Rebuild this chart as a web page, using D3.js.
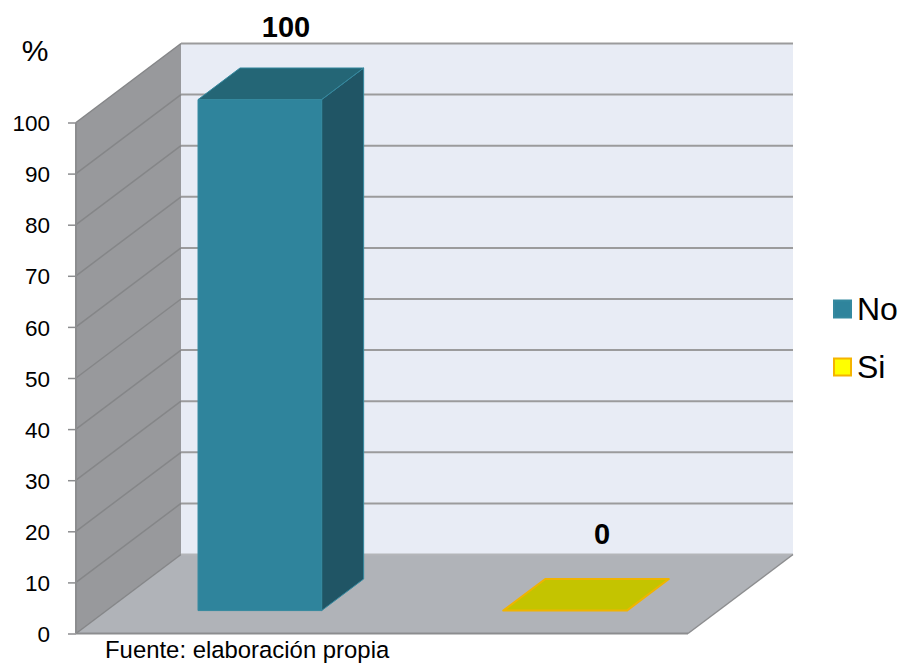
<!DOCTYPE html>
<html><head><meta charset="utf-8">
<script src="https://cdn.jsdelivr.net/npm/d3@7"></script>
<style>html,body{margin:0;padding:0;background:#fff}svg{display:block}text{font-family:"Liberation Sans",Arial,sans-serif;fill:#000}</style>
</head><body><div id="c"></div>
<script>
const categories = ["No","Si"];
const values = [100,0];
const tickValues = [0,10,20,30,40,50,60,70,80,90,100];
const colors = {No:{front:"#2f849c",top:"#246676",side:"#205565",edge:"#35899f"},Si:{front:"#c4c400",top:"#c4c400",side:"#c4c400",edge:"#f0b400"}};

const W=901,H=663;
const svg=d3.select("#c").append("svg").attr("width",W).attr("height",H);
const y=d3.scaleLinear().domain([0,100]).range([633.5,122.5]);
const x=d3.scaleBand().domain(categories).range([76,688]).paddingInner(.595).paddingOuter(.3);
const DX=105,DY=-79;
const pt=(px,v,d)=>[px+DX*d,y(v)+DY*d];
const poly=(pts,fill,stroke,sw)=>svg.append("polygon").attr("points",pts.map(p=>p.join(",")).join(" ")).attr("fill",fill).attr("stroke",stroke||"none").attr("stroke-width",sw||0).attr("stroke-linejoin","round");
const x0=76,x1=688,vMax=100;

// back wall, side wall, floor
poly([pt(x0,0,1),pt(x1,0,1),pt(x1,vMax,1),pt(x0,vMax,1)],"#e8ecf5");
poly([pt(x0,0,0),pt(x0,0,1),pt(x0,vMax,1),pt(x0,vMax,0)],"#98999c");
poly([pt(x0,0,0),pt(x1,0,0),pt(x1,0,1),pt(x0,0,1)],"#b0b3b8");

// gridlines
tickValues.forEach(t=>{
  const a=pt(x0,t,0),b=pt(x0,t,1),c=pt(x1,t,1);
  svg.append("line").attr("x1",a[0]).attr("y1",a[1]).attr("x2",b[0]).attr("y2",b[1]).attr("stroke","#858688").attr("stroke-width",1.5);
  svg.append("line").attr("x1",b[0]).attr("y1",b[1]).attr("x2",c[0]).attr("y2",c[1]).attr("stroke",t===0?"#b4b6b9":"#9b9b9c").attr("stroke-width",2);
});
// floor front and right edge
const f0=pt(x0,0,0),f1=pt(x1,0,0),f2=pt(x1,0,1);
svg.append("line").attr("x1",f0[0]).attr("y1",f0[1]).attr("x2",f1[0]).attr("y2",f1[1]).attr("stroke","#8c8d8f").attr("stroke-width",2);
svg.append("line").attr("x1",f1[0]).attr("y1",f1[1]).attr("x2",f2[0]).attr("y2",f2[1]).attr("stroke","#8c8d8f").attr("stroke-width",1.5);
svg.append("line").attr("x1",x0).attr("y1",y(0)).attr("x2",x0).attr("y2",y(100)).attr("stroke","#8c8d8f").attr("stroke-width",2);

// axis (ticks and labels)
const ax=svg.append("g").attr("transform",`translate(${x0},0)`).call(d3.axisLeft(y).tickValues(tickValues).tickSize(8).tickPadding(18));
ax.select(".domain").remove();
ax.selectAll("line").attr("stroke","#8c8d8f").attr("stroke-width",1.5);
ax.selectAll("text").style("font-size","22.5px").attr("dy","0.36em").attr("fill","#000");

// bars
const d0=.29,d1=.69;
categories.forEach((c,i)=>{
  const v=values[i],l=x(c),r=l+x.bandwidth(),col=colors[c];
  if(v>0){
    poly([pt(r,0,d0),pt(r,0,d1),pt(r,v,d1),pt(r,v,d0)],col.side,col.edge,1);
    poly([pt(l,v,d0),pt(r,v,d0),pt(r,v,d1),pt(l,v,d1)],col.top,col.edge,1);
    poly([pt(l,0,d0),pt(r,0,d0),pt(r,v,d0),pt(l,v,d0)],col.front,col.edge,1);
  } else {
    poly([pt(l,0,d0),pt(r,0,d0),pt(r,0,d1),pt(l,0,d1)],col.top,col.edge,2);
  }
});

// value labels
const labelPos=[[286,36.5],[602,544]];
categories.forEach((c,i)=>{
  svg.append("text").attr("x",labelPos[i][0]).attr("y",labelPos[i][1]).attr("text-anchor","middle").style("font-size","29px").style("font-weight","700").text(values[i]);
});

svg.append("text").attr("x",35).attr("y",61).attr("text-anchor","middle").style("font-size","30px").text("%");
svg.append("text").attr("x",105).attr("y",657.5).style("font-size","23.9px").text("Fuente: elaboración propia");

// legend
const legY=[309,367],legCol=["#2f849c","#ffff00"],legEdge=["#35899f","#f5b400"];
categories.forEach((c,i)=>{
  svg.append("rect").attr("x",834).attr("y",legY[i]-8.5).attr("width",17).attr("height",17).attr("fill",legCol[i]).attr("stroke",legEdge[i]).attr("stroke-width",2);
  svg.append("text").attr("x",857).attr("y",legY[i]+11).style("font-size","32px").text(c);
});
</script></body></html>
